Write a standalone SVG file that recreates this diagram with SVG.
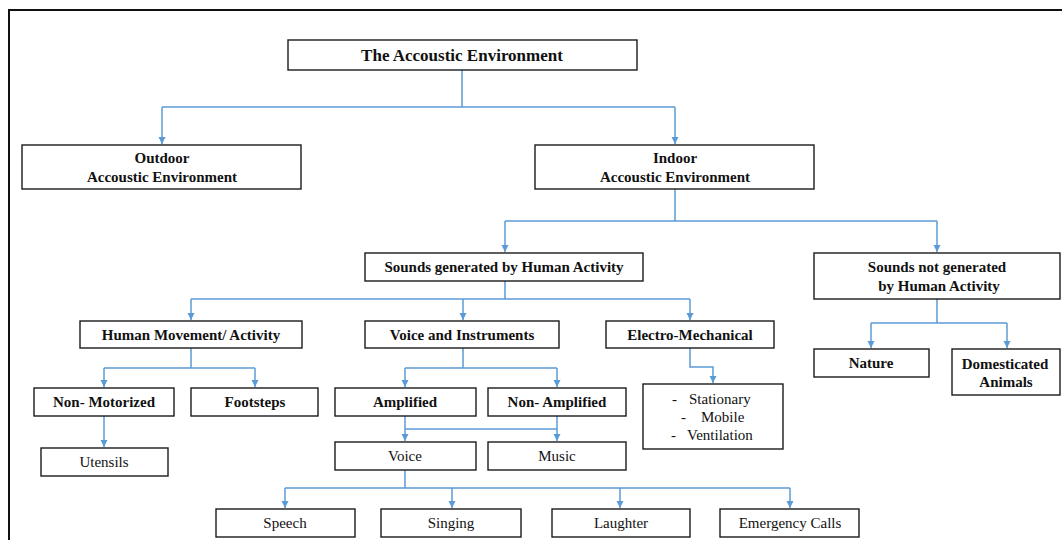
<svg xmlns="http://www.w3.org/2000/svg" width="1062" height="540" viewBox="0 0 1062 540">
<defs>
<marker id="arr" markerUnits="userSpaceOnUse" markerWidth="8" markerHeight="8" refX="7" refY="3.5" orient="auto">
<path d="M0,0 L7,3.5 L0,7 z" fill="#5b9bd5"/>
</marker>
<style>
.box{fill:#fff;stroke:#1a1a1a;stroke-width:1.4}
.t{font-family:'Liberation Serif','Times New Roman',serif;font-size:15px;fill:#111;text-anchor:middle}
.b{font-weight:bold}
.c{fill:none;stroke:#5b9bd5;stroke-width:1.5}
.ca{fill:none;stroke:#5b9bd5;stroke-width:1.5;marker-end:url(#arr)}
.frame{fill:none;stroke:#111;stroke-width:2}
</style>
</defs>
<rect width="1062" height="540" fill="#fff"/>
<path class="frame" d="M9,541 L9,10 L1063,10"/>

<g id="connectors">
<path class="c" d="M462,70 V107 M162,107 H675"/>
<path class="ca" d="M162,107 V144"/>
<path class="ca" d="M675,107 V144"/>
<path class="c" d="M675,189 V221 M505,221 H937"/>
<path class="ca" d="M505,221 V252"/>
<path class="ca" d="M937,221 V252"/>
<path class="c" d="M505,281 V299 M191,299 H690"/>
<path class="ca" d="M191,299 V320"/>
<path class="ca" d="M463,299 V320"/>
<path class="ca" d="M690,299 V320"/>
<path class="c" d="M191,348 V368 M104,368 H255"/>
<path class="ca" d="M104,368 V387"/>
<path class="ca" d="M255,368 V387"/>
<path class="c" d="M463,348 V368 M405,368 H557"/>
<path class="ca" d="M405,368 V387"/>
<path class="ca" d="M557,368 V387"/>
<path class="ca" d="M690,348 V367 H713 V383"/>
<path class="ca" d="M104,416 V447"/>
<path class="c" d="M405,429 H557"/>
<path class="ca" d="M405,416 V441"/>
<path class="ca" d="M557,416 V441"/>
<path class="c" d="M405,470 V488 M285,488 H790"/>
<path class="ca" d="M285,488 V508"/>
<path class="ca" d="M452,488 V508"/>
<path class="ca" d="M620,488 V508"/>
<path class="ca" d="M790,488 V508"/>
<path class="c" d="M937,299 V323 M871,323 H1007"/>
<path class="ca" d="M871,323 V348"/>
<path class="ca" d="M1007,323 V348"/>
</g>

<g id="root"><rect class="box" x="288" y="40" width="349" height="30"/><text class="t b" x="462" y="61" style="font-size:17px">The Accoustic Environment</text></g>
<g id="outdoor"><rect class="box" x="22" y="145" width="279" height="44"/><text class="t b" x="162" y="163">Outdoor</text><text class="t b" x="162" y="182">Accoustic Environment</text></g>
<g id="indoor"><rect class="box" x="535" y="145" width="279" height="44"/><text class="t b" x="675" y="163">Indoor</text><text class="t b" x="675" y="182">Accoustic Environment</text></g>
<g id="sounds-human"><rect class="box" x="365" y="253" width="278" height="28"/><text class="t b" x="504" y="272">Sounds generated by Human Activity</text></g>
<g id="sounds-not-human"><rect class="box" x="814" y="253" width="246" height="46"/><text class="t b" x="937" y="272">Sounds not generated</text><text class="t b" x="939" y="291">by Human Activity</text></g>
<g id="human-movement"><rect class="box" x="80" y="321" width="222" height="27"/><text class="t b" x="191" y="340">Human Movement/ Activity</text></g>
<g id="voice-instruments"><rect class="box" x="365" y="321" width="194" height="27"/><text class="t b" x="462" y="340">Voice and Instruments</text></g>
<g id="electro"><rect class="box" x="606" y="321" width="168" height="27"/><text class="t b" x="690" y="340">Electro-Mechanical</text></g>
<g id="nature"><rect class="box" x="814" y="349" width="115" height="28"/><text class="t b" x="871" y="368">Nature</text></g>
<g id="domesticated"><rect class="box" x="952" y="349" width="108" height="46"/><text class="t b" x="1005" y="369">Domesticated</text><text class="t b" x="1006" y="387">Animals</text></g>
<g id="non-motorized"><rect class="box" x="34" y="388" width="140" height="28"/><text class="t b" x="104" y="407">Non- Motorized</text></g>
<g id="footsteps"><rect class="box" x="191" y="388" width="127" height="28"/><text class="t b" x="255" y="407">Footsteps</text></g>
<g id="amplified"><rect class="box" x="335" y="388" width="141" height="28"/><text class="t b" x="405" y="407">Amplified</text></g>
<g id="non-amplified"><rect class="box" x="488" y="388" width="138" height="28"/><text class="t b" x="557" y="407">Non- Amplified</text></g>
<g id="stationary"><rect class="box" x="643" y="384" width="140" height="65"/>
<text class="t" style="text-anchor:start" x="672" y="404">-<tspan x="689">Stationary</tspan></text>
<text class="t" style="text-anchor:start" x="681" y="422">-<tspan x="701">Mobile</tspan></text>
<text class="t" style="text-anchor:start" x="671" y="440">-<tspan x="687">Ventilation</tspan></text>
</g>
<g id="utensils"><rect class="box" x="41" y="448" width="127" height="28"/><text class="t" x="104" y="467">Utensils</text></g>
<g id="voice"><rect class="box" x="335" y="442" width="141" height="28"/><text class="t" x="405" y="461">Voice</text></g>
<g id="music"><rect class="box" x="488" y="442" width="138" height="28"/><text class="t" x="557" y="461">Music</text></g>
<g id="speech"><rect class="box" x="216" y="509" width="139" height="28"/><text class="t" x="285" y="528">Speech</text></g>
<g id="singing"><rect class="box" x="381" y="509" width="140" height="28"/><text class="t" x="451" y="528">Singing</text></g>
<g id="laughter"><rect class="box" x="552" y="509" width="138" height="28"/><text class="t" x="621" y="528">Laughter</text></g>
<g id="emergency"><rect class="box" x="720" y="509" width="139" height="28"/><text class="t" x="790" y="528">Emergency Calls</text></g>
</svg>
